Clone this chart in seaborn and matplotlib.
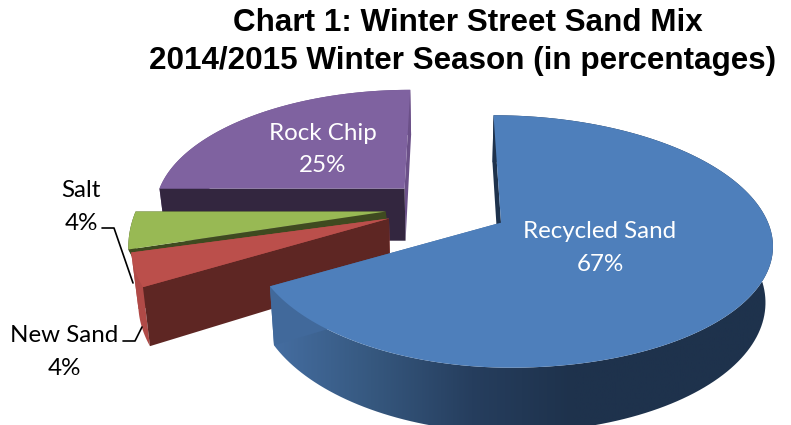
import numpy as np
import matplotlib
matplotlib.use('Agg')
import matplotlib.pyplot as plt
from matplotlib.patches import Polygon
import seaborn as sns

# Values
labels = ['Recycled Sand', 'New Sand', 'Salt', 'Rock Chip']
values = [67, 4, 4, 25]
top_colors = ['#4e7fbb', '#bb4f4b', '#98b954', '#7f62a0']
wall_colors = ['#1e324c', '#5e2623', '#3f4a20', '#33263f']
rim_colors = ['#41699b', '#b04a47', '#3f4a20', '#6b5088']
left_scale = [0.93, 0.95, 0.95, 0.96]
near_scale = [0.98, 1.06, 1.2, 1.0]
slice_depth = [53.5, 53.5, 11, 53.5]
title_lines = ['Chart 1: Winter Street Sand Mix', '2014/2015 Winter Season (in percentages)']

# Projection of the tilted pie onto the pixel canvas
cx, cy = 447, 208
f, c, k = 262, 120, 0.158
explode = 0.235
shrink = 0.977
stretch = 1.07


def project(x, y, drop=None):
    d = 1 + k * y
    px = cx + f * x / d
    py = cy - c * y / d
    if drop is not None:
        px = cx + (px - cx) * shrink
        py = cy + (py - cy) * stretch + drop
    return np.asarray(px), np.asarray(py)


def slice_geometry(start, end, squeeze, near):
    mid = np.radians((start + end) / 2)
    ox, oy = explode * np.sin(mid), explode * np.cos(mid)
    th = np.radians(np.linspace(start, end, 160))
    sx, cs = np.sin(th), np.cos(th)
    sx = np.where(sx < 0, sx * squeeze, sx)
    cs = np.where(cs < 0, cs * near, cs)
    return ox, oy, ox + sx, oy + cs


def radial_wall(ax, ox, oy, ex, ey, drop, color, z):
    t = np.linspace(0, 1, 2)
    x = ox + (ex - ox) * t
    y = oy + (ey - oy) * t
    xa, ya = project(x, y)
    xb, yb = project(x, y, drop)
    ax.fill(np.r_[xa, xb[::-1]], np.r_[ya, yb[::-1]], color=color, lw=0, zorder=z)


sns.set_theme(style='white')
plt.rcParams['font.family'] = ['Lato', 'DejaVu Sans']

fig, ax = plt.subplots(figsize=(7.91, 4.25), dpi=100)
fig.subplots_adjust(0, 0, 1, 1)
ax.axis('off')

edges = np.r_[0, np.cumsum(values)] * 3.6
side_ramp = sns.blend_palette(['#456ea2', '#36587f', '#263e5e', '#1e324c', '#1e324c', '#1e324c'], n_colors=256)

# back to front: rock chip, salt, new sand, recycled sand
for z, i in enumerate([3, 2, 1, 0]):
    ox, oy, rim_x, rim_y = slice_geometry(edges[i], edges[i + 1], left_scale[i], near_scale[i])
    base = 10 * z
    drop = slice_depth[i]

    # outer wall
    xa, ya = project(rim_x, rim_y)
    xb, yb = project(rim_x, rim_y, drop)
    wall_x, wall_y = np.r_[xa, xb[::-1]], np.r_[ya, yb[::-1]]
    if i == 0:
        shade = np.array(side_ramp)[None, :, :]
        img = ax.imshow(shade, extent=(xa.min(), xa.max(), 440, 100), aspect='auto', zorder=base)
        img.set_clip_path(Polygon(np.c_[wall_x, wall_y], transform=ax.transData))
    else:
        ax.fill(wall_x, wall_y, color=rim_colors[i], lw=0, zorder=base)

    # radial walls, the one at the start of the slice faces the viewer
    radial_wall(ax, ox, oy, rim_x[-1], rim_y[-1], drop, rim_colors[i], base + 1)
    radial_wall(ax, ox, oy, rim_x[0], rim_y[0], drop, wall_colors[i], base + 2)

    # top face
    ox_p, oy_p = project(ox, oy)
    ax.fill(np.r_[ox_p, xa], np.r_[oy_p, ya], color=top_colors[i], lw=0, zorder=base + 3)

ax.set_xlim(0, 791)
ax.set_ylim(425, 0)

# data labels
label_style = dict(fontsize=17.4, ha='center', va='center', linespacing=1.68, zorder=90)
ax.text(600, 248, f'{labels[0]}\n{values[0]}%', color='white', **label_style)
ax.text(323, 149.5, f'{labels[3]}\n{values[3]}%', color='white', **label_style)
ax.text(81, 207, f'{labels[2]}\n{values[2]}%', color='black', **label_style)
ax.text(64, 352, f'{labels[1]}\n{values[1]}%', color='black', **label_style)

# leader lines
ax.plot([102, 114, 133], [228, 228, 283], color='black', lw=1.2, zorder=80)
ax.plot([123, 135, 142], [341, 341, 327], color='black', lw=1.2, zorder=80)

# title
ax.text(467.5, 23, title_lines[0], color='black', fontsize=22.6, fontweight='bold',
        family=['Liberation Sans'], ha='center', va='center')
ax.text(463, 61, title_lines[1], color='black', fontsize=22.6, fontweight='bold',
        family=['Liberation Sans'], ha='center', va='center')

fig.savefig('out.png', dpi=100)
